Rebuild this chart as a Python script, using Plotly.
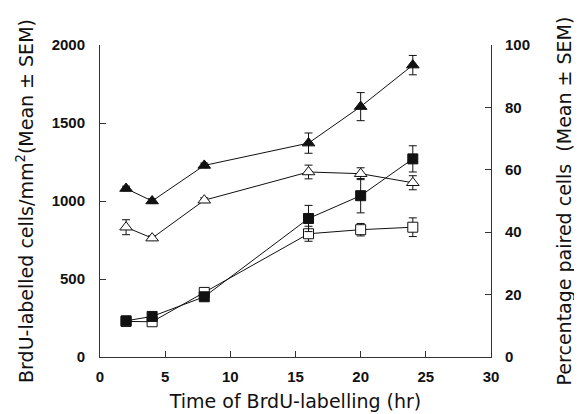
import plotly.graph_objects as go

# Time of BrdU-labelling (hr)
hours = [2, 4, 8, 16, 20, 24]

# BrdU-labelled cells/mm^2 (left axis)
filled_tri = [1080, 1000, 1228, 1371, 1605, 1871]
filled_tri_err = [15, 15, 15, 65, 90, 62]
open_tri = [832, 762, 1005, 1186, 1175, 1117]
open_tri_err = [48, 15, 15, 44, 38, 45]

# Percentage paired cells (right axis)
filled_sq = [11.6, 13.0, 19.3, 44.4, 51.7, 63.5]
filled_sq_err = [0.6, 0.6, 0.6, 4.2, 5.5, 4.2]
open_sq = [11.4, 11.3, 20.7, 39.5, 40.8, 41.6]
open_sq_err = [0.6, 0.6, 0.6, 2.4, 2.0, 3.0]

x_ticks = [0, 5, 10, 15, 20, 25, 30]
y_ticks = [0, 500, 1000, 1500, 2000]
y2_ticks = [0, 20, 40, 60, 80, 100]

INK = "#111111"
tick_font = dict(family="Liberation Sans, Arial", size=15, color=INK, weight="bold")
title_font = dict(family="DejaVu Sans, Liberation Sans", size=19, color=INK)


def trace(y, err, symbol, fill, yaxis, size):
    return go.Scatter(
        x=hours, y=y, yaxis=yaxis, mode="lines+markers",
        line=dict(color=INK, width=1),
        marker=dict(symbol=symbol, size=size, color=fill,
                    line=dict(color=INK, width=1)),
        error_y=dict(type="data", array=err, visible=True,
                     color=INK, thickness=1, width=4),
        showlegend=False, hoverinfo="skip",
    )


fig = go.Figure()
fig.add_trace(trace(open_sq, open_sq_err, "square", "white", "y2", 10))
fig.add_trace(trace(filled_sq, filled_sq_err, "square", INK, "y2", 10))
fig.add_trace(trace(open_tri, open_tri_err, "triangle-up", "white", "y", 11))
fig.add_trace(trace(filled_tri, filled_tri_err, "triangle-up", INK, "y", 11))

axis_common = dict(
    showline=True, linecolor="#333333", linewidth=1, mirror=False,
    ticks="inside", ticklen=6, tickcolor="#333333", tickwidth=1,
    showgrid=False, zeroline=False, tickfont=tick_font, automargin=False,
)

# page body has an 8px default margin, so the figure is sized to fit the window
fig.update_layout(
    width=574, height=406,
    margin=dict(l=92, r=91, t=37, b=57),
    paper_bgcolor="white", plot_bgcolor="white",
    xaxis=dict(range=[0, 30], tickvals=x_ticks, ticklabelstandoff=6,
               title=dict(text="Time of BrdU-labelling (hr)", font=title_font, standoff=10),
               **axis_common),
    yaxis=dict(range=[0, 2000], tickvals=y_ticks, ticklabelstandoff=11,
               title=dict(text="BrdU-labelled cells/mm<sup>2</sup>(Mean ± SEM)",
                          font=title_font, standoff=12),
               **axis_common),
    yaxis2=dict(range=[0, 100], tickvals=y2_ticks, overlaying="y", side="right",
                ticklabelstandoff=10,
                title=dict(text="Percentage paired cells \u00a0(Mean ± SEM)",
                           font=title_font, standoff=28),
                **axis_common),
)

fig.write_html("out.html")
